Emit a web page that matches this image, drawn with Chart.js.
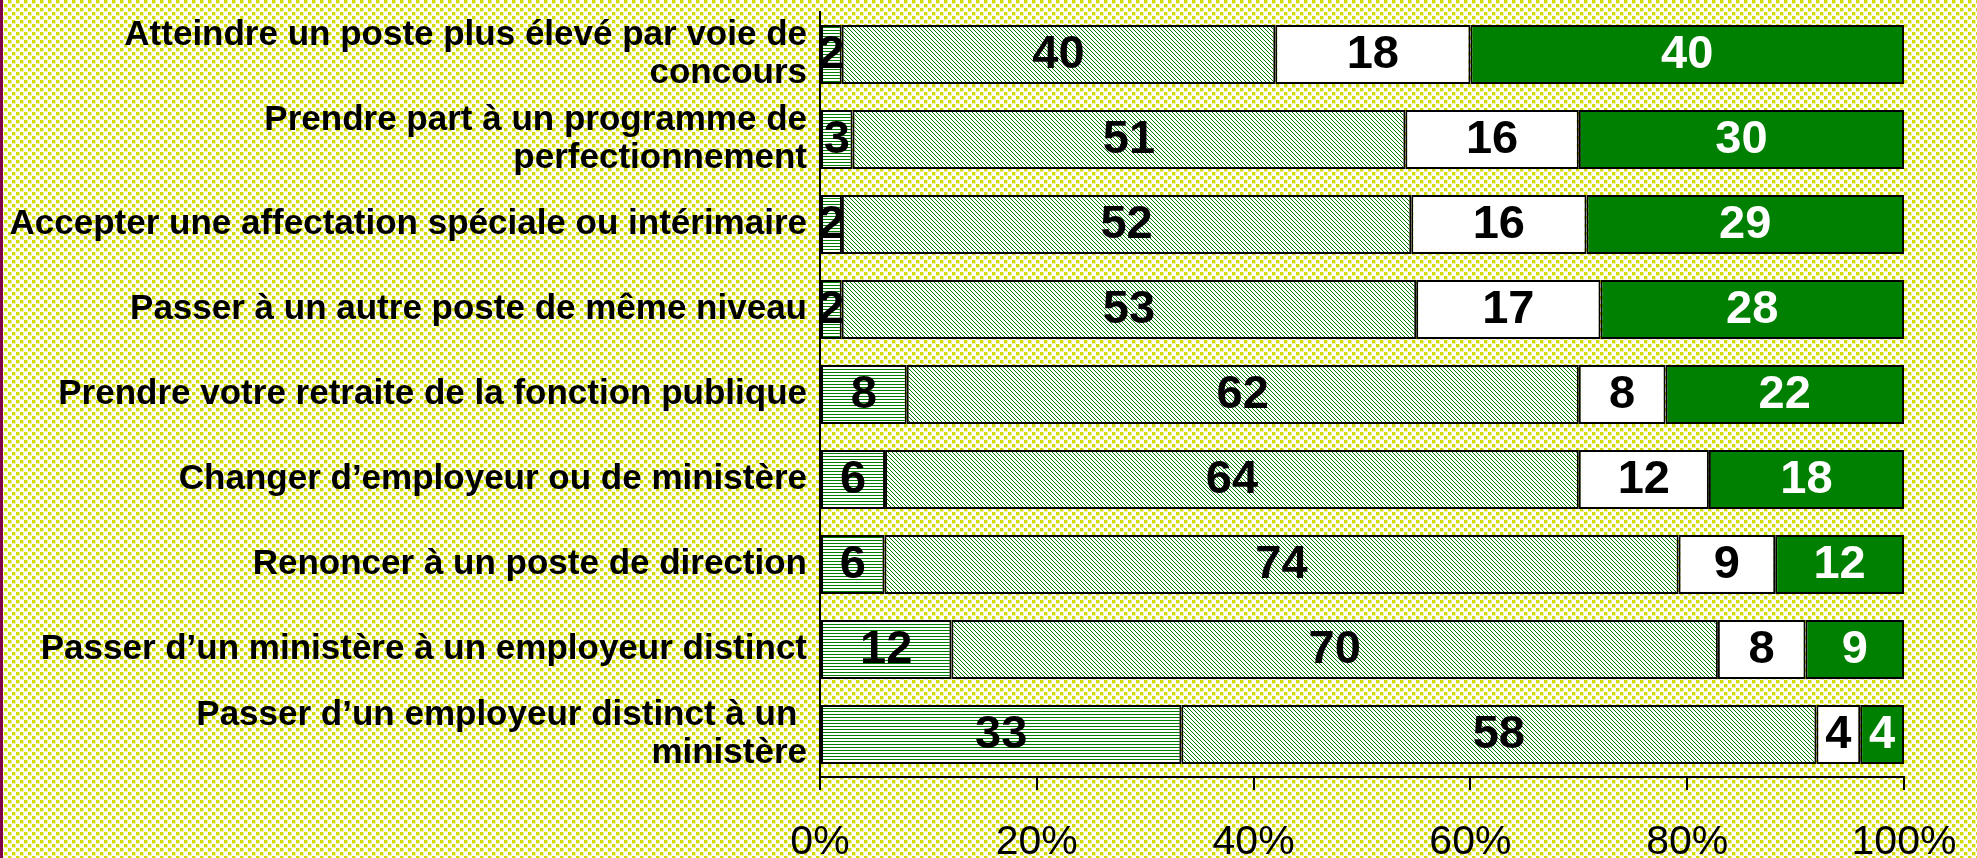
<!DOCTYPE html>
<html>
<head>
<meta charset="utf-8">
<script src="https://cdn.jsdelivr.net/npm/chart.js"></script>
<style>
  html, body { margin: 0; padding: 0; background: #fff; }
  #wrap { width: 1977px; height: 858px; position: relative; }
</style>
</head>
<body>
<div id="wrap"><canvas id="myChart"></canvas></div>
<script>
const categories = [
  ['Atteindre un poste plus élevé par voie de', 'concours'],
  ['Prendre part à un programme de', 'perfectionnement'],
  'Accepter une affectation spéciale ou intérimaire',
  'Passer à un autre poste de même niveau',
  'Prendre votre retraite de la fonction publique',
  'Changer d’employeur ou de ministère',
  'Renoncer à un poste de direction',
  'Passer d’un ministère à un employeur distinct',
  ['Passer d’un employeur distinct à un ', 'ministère']
];
const serie1 = [2, 3, 2, 2, 8, 6, 6, 12, 33];
const serie2 = [40, 51, 52, 53, 62, 64, 74, 70, 58];
const serie3 = [18, 16, 16, 17, 8, 12, 9, 8, 4];
const serie4 = [40, 30, 29, 28, 22, 18, 12, 9, 4];
const xTicks = [0, 20, 40, 60, 80, 100];

const FONT = '"Liberation Sans", Arial, sans-serif';

function makePattern(w, h, draw) {
  const c = document.createElement('canvas');
  c.width = w; c.height = h;
  const g = c.getContext('2d');
  draw(g, w, h);
  return g.createPattern(c, 'repeat');
}

// fill patterns
const hLines = makePattern(3, 3, (g) => {
  g.fillStyle = '#fff'; g.fillRect(0, 0, 3, 3);
  g.fillStyle = '#008000'; g.fillRect(0, 0, 3, 1);
});
const diagLines = makePattern(4, 4, (g) => {
  g.fillStyle = '#fff'; g.fillRect(0, 0, 4, 4);
  g.fillStyle = '#008000';
  for (let i = 0; i < 4; i++) g.fillRect(i, i, 1, 1);
});
const bgDots = makePattern(8, 8, (g) => {
  g.fillStyle = '#fff'; g.fillRect(0, 0, 8, 8);
  g.fillStyle = '#eef2a0';
  g.fillRect(0, 0, 4, 4); g.fillRect(4, 4, 4, 4);
  g.fillStyle = '#d2dc00';
  g.fillRect(0, 0, 3, 3); g.fillRect(4, 4, 3, 3);
});

const rows = [serie1, serie2, serie3, serie4];
const totals = categories.map((_, i) => rows.reduce((s, r) => s + r[i], 0));
const share = (arr) => arr.map((v, i) => v / totals[i] * 100);

const background = {
  id: 'background',
  beforeDraw(chart) {
    const { ctx, width, height } = chart;
    ctx.save();
    ctx.fillStyle = bgDots;
    ctx.fillRect(0, 0, width, height);
    ctx.fillStyle = '#7d0049';
    ctx.fillRect(0, 0, 3, height);
    ctx.restore();
  }
};

const valueLabels = {
  id: 'valueLabels',
  afterDatasetsDraw(chart) {
    const { ctx } = chart;
    ctx.save();
    ctx.font = 'bold 47px ' + FONT;
    ctx.textAlign = 'center';
    ctx.textBaseline = 'middle';
    chart.data.datasets.forEach((ds, di) => {
      const meta = chart.getDatasetMeta(di);
      ctx.fillStyle = di === 3 ? '#fff' : '#000';
      meta.data.forEach((bar, i) => {
        const x = (bar.x + bar.base) / 2;
        ctx.fillText(String(ds.raw[i]), x, bar.y + 1);
      });
    });
    ctx.restore();
  }
};

const ctx = document.getElementById('myChart');

new Chart(ctx, {
  type: 'bar',
  data: {
    labels: categories,
    datasets: [
      { label: 'Série 1', raw: serie1, data: share(serie1), backgroundColor: hLines },
      { label: 'Série 2', raw: serie2, data: share(serie2), backgroundColor: diagLines },
      { label: 'Série 3', raw: serie3, data: share(serie3), backgroundColor: '#ffffff' },
      { label: 'Série 4', raw: serie4, data: share(serie4), backgroundColor: '#008000' }
    ]
  },
  options: {
    indexAxis: 'y',
    responsive: true,
    maintainAspectRatio: false,
    animation: false,
    devicePixelRatio: 1,
    layout: { padding: { top: 12, left: 0, right: 73, bottom: 0 } },
    datasets: {
      bar: {
        borderColor: '#000',
        borderWidth: 2,
        borderSkipped: false,
        barPercentage: 0.695,
        categoryPercentage: 1
      }
    },
    plugins: {
      legend: { display: false },
      tooltip: { enabled: false }
    },
    scales: {
      x: {
        stacked: true,
        min: 0,
        max: 100,
        afterBuildTicks: (s) => { s.ticks = xTicks.map(v => ({ value: v })); },
        afterFit: (s) => { s.height = 81; s.paddingLeft = 0; s.paddingRight = 0; },
        grid: {
          drawOnChartArea: false,
          drawTicks: true,
          tickLength: 13,
          color: '#000',
          lineWidth: 2
        },
        border: { display: true, color: '#000', width: 2 },
        ticks: {
          padding: 32,
          color: '#000',
          maxRotation: 0,
          font: { family: FONT, size: 41, lineHeight: 1 },
          callback: (v) => v + '%'
        }
      },
      y: {
        stacked: true,
        afterFit: (s) => { s.width = 820; s.paddingTop = 0; s.paddingBottom = 0; },
        grid: { display: false, drawTicks: false },
        border: { display: true, color: '#000', width: 2 },
        ticks: {
          padding: 13,
          color: '#000',
          autoSkip: false,
          font: { family: FONT, size: 35, weight: 'bold', lineHeight: 1.1 }
        }
      }
    }
  },
  plugins: [background, valueLabels]
});
</script>
</body>
</html>
